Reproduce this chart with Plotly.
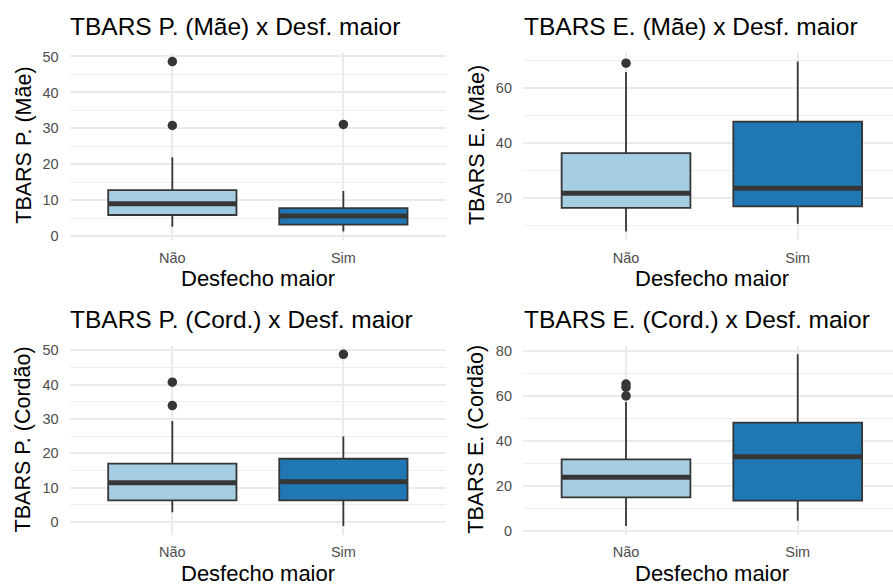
import plotly.graph_objects as go

# Groups on the x axis
groups = ["Não", "Sim"]
group_fills = ["#A6CEE3", "#1F78B4"]

# TBARS P. (Mãe): box statistics per group
p_mae_lower = [2.6, 1.3]
p_mae_q1 = [5.9, 3.2]
p_mae_median = [9.0, 5.6]
p_mae_q3 = [12.8, 7.8]
p_mae_upper = [22.0, 12.6]
p_mae_outliers = [[48.6, 30.8], [31.1]]
p_mae_ticks = [0, 10, 20, 30, 40, 50]

# TBARS E. (Mãe)
e_mae_lower = [7.8, 10.6]
e_mae_q1 = [16.4, 17.0]
e_mae_median = [21.8, 23.6]
e_mae_q3 = [36.4, 47.9]
e_mae_upper = [66.0, 69.8]
e_mae_outliers = [[69.2], []]
e_mae_ticks = [20, 40, 60]

# TBARS P. (Cordão)
p_cord_lower = [2.8, -1.2]
p_cord_q1 = [6.3, 6.3]
p_cord_median = [11.4, 11.7]
p_cord_q3 = [17.0, 18.4]
p_cord_upper = [29.4, 24.9]
p_cord_outliers = [[40.7, 33.9], [48.8]]
p_cord_ticks = [0, 10, 20, 30, 40, 50]

# TBARS E. (Cordão)
e_cord_lower = [2.0, 4.4]
e_cord_q1 = [14.8, 13.3]
e_cord_median = [23.7, 32.9]
e_cord_q3 = [31.7, 48.1]
e_cord_upper = [57.3, 78.5]
e_cord_outliers = [[60.0, 63.8, 65.3], []]
e_cord_ticks = [0, 20, 40, 60, 80]

panels = [
    dict(title="TBARS P. (Mãe) x Desf. maior", ytitle="TBARS P. (Mãe)",
         lower=p_mae_lower, q1=p_mae_q1, med=p_mae_median, q3=p_mae_q3,
         upper=p_mae_upper, out=p_mae_outliers, ticks=p_mae_ticks),
    dict(title="TBARS E. (Mãe) x Desf. maior", ytitle="TBARS E. (Mãe)",
         lower=e_mae_lower, q1=e_mae_q1, med=e_mae_median, q3=e_mae_q3,
         upper=e_mae_upper, out=e_mae_outliers, ticks=e_mae_ticks),
    dict(title="TBARS P. (Cord.) x Desf. maior", ytitle="TBARS P. (Cordão)",
         lower=p_cord_lower, q1=p_cord_q1, med=p_cord_median, q3=p_cord_q3,
         upper=p_cord_upper, out=p_cord_outliers, ticks=p_cord_ticks),
    dict(title="TBARS E. (Cord.) x Desf. maior", ytitle="TBARS E. (Cordão)",
         lower=e_cord_lower, q1=e_cord_q1, med=e_cord_median, q3=e_cord_q3,
         upper=e_cord_upper, out=e_cord_outliers, ticks=e_cord_ticks),
]

W, H = 893, 587
FONT = "Liberation Sans, Arial, sans-serif"
LINE = "#363636"
BOX_W = 0.75

# panel geometry in pixels: (left, right, top, bottom) and visible x range
geom = [
    (69.7, 446.0, 49.7, 239.3, [0.4, 2.6]),
    (523.0, 893.0, 49.7, 239.3, [0.4, 2.555]),
    (69.7, 446.0, 346.5, 538.0, [0.4, 2.6]),
    (523.0, 893.0, 346.5, 538.0, [0.4, 2.555]),
]
# horizontal centre of the full panel (right panels extend past the page)
title_cx = [257.9, 711.9, 257.9, 711.9]

fig = go.Figure()
layout = dict(
    width=W, height=H, margin=dict(l=0, r=0, t=0, b=0),
    paper_bgcolor="white", plot_bgcolor="white",
    showlegend=False, boxmode="overlay",
    font=dict(family=FONT, color="#000000"),
)
annotations = []

for k, (p, (l, r, t, b, xr)) in enumerate(zip(panels, geom)):
    sfx = "" if k == 0 else str(k + 1)
    xa, ya = "x" + sfx, "y" + sfx

    for i, g in enumerate(groups):
        pos = i + 1
        fig.add_trace(go.Box(
            x=[pos], q1=[p["q1"][i]], median=[p["med"][i]], q3=[p["q3"][i]],
            lowerfence=[p["lower"][i]], upperfence=[p["upper"][i]],
            width=BOX_W, whiskerwidth=0, boxpoints=False,
            fillcolor=group_fills[i], line=dict(color=LINE, width=1.8),
            xaxis=xa, yaxis=ya, hoverinfo="skip",
        ))
        # thick median bar
        fig.add_trace(go.Scatter(
            x=[pos - BOX_W / 2, pos + BOX_W / 2], y=[p["med"][i]] * 2,
            mode="lines", line=dict(color=LINE, width=5),
            xaxis=xa, yaxis=ya, hoverinfo="skip",
        ))
        if p["out"][i]:
            fig.add_trace(go.Scatter(
                x=[pos] * len(p["out"][i]), y=p["out"][i], mode="markers",
                marker=dict(color=LINE, size=9.5),
                xaxis=xa, yaxis=ya, hoverinfo="skip",
            ))

    # y range: data extent expanded by 5 %
    vals = p["lower"] + p["upper"] + [v for o in p["out"] for v in o]
    lo, hi = min(vals), max(vals)
    pad = 0.05 * (hi - lo)
    yr = [lo - pad, hi + pad]
    step = p["ticks"][1] - p["ticks"][0]
    minor = [v + step / 2 for v in [p["ticks"][0] - step] + p["ticks"]]
    minor = [v for v in minor if yr[0] <= v <= yr[1]]

    layout["xaxis" + sfx] = dict(
        domain=[l / W, r / W], range=xr, anchor=ya,
        tickvals=[1, 2], ticktext=groups, showgrid=True,
        gridcolor="#EBEBEB", gridwidth=1.8, zeroline=False, showline=False,
        ticks="", ticklabelstandoff=7,
        tickfont=dict(family=FONT, size=14.5, color="#4D4D4D"),
        fixedrange=True,
    )
    layout["yaxis" + sfx] = dict(
        domain=[1 - b / H, 1 - t / H], range=yr, anchor=xa,
        tickvals=p["ticks"], showgrid=True, gridcolor="#EBEBEB", gridwidth=1.8,
        minor=dict(tickvals=minor, showgrid=True, gridcolor="#EEEEEE",
                   gridwidth=1.4),
        zeroline=False, showline=False, ticks="", ticklabelstandoff=10,
        tickfont=dict(family=FONT, size=14.5, color="#4D4D4D"),
        fixedrange=True,
    )

    # panel title, left aligned with the plotting area
    annotations.append(dict(
        text=p["title"], x=(l - 1.5) / W, y=1 - (t - 27) / H,
        xref="paper", yref="paper", xanchor="left", yanchor="middle",
        showarrow=False, font=dict(family=FONT, size=24.5, color="#000000"),
    ))
    # x axis title
    annotations.append(dict(
        text="Desfecho maior", x=title_cx[k] / W, y=1 - (b + 39) / H,
        xref="paper", yref="paper", xanchor="center", yanchor="middle",
        showarrow=False, font=dict(family=FONT, size=22, color="#000000"),
    ))
    # y axis title
    annotations.append(dict(
        text=p["ytitle"], x=(l - 46.5) / W, y=1 - ((t + b) / 2 - 1) / H,
        xref="paper", yref="paper", xanchor="center", yanchor="middle",
        textangle=-90, showarrow=False,
        font=dict(family=FONT, size=21.5, color="#000000"),
    ))

layout["annotations"] = annotations
fig.update_layout(**layout)
fig.write_html("out.html")
